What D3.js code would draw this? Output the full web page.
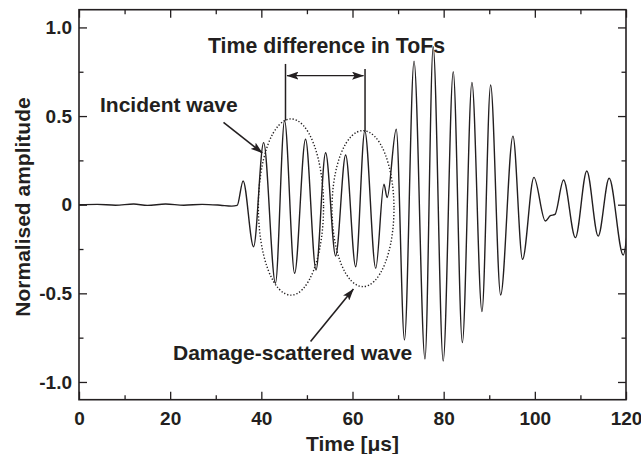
<!DOCTYPE html>
<html><head><meta charset="utf-8">
<script src="https://cdn.jsdelivr.net/npm/d3@7"></script>
<style>
body{margin:0;background:#fff}
svg{display:block}
text{font-family:"Liberation Sans",Arial,Helvetica,sans-serif;font-weight:bold;fill:#231f20}
</style>
</head><body>
<svg id="chart" width="641" height="454"></svg>
<script>
// ---- data ----
const timeUs = [0, 4, 8, 12, 15, 19, 23, 27, 31, 33.5, 34.7,
  36.0, 38.3, 40.5, 43.1, 45.1, 47.3, 49.7, 52.0, 54.1, 56.3, 58.5, 60.7, 62.7, 65.1,
  66.9, 67.6, 69.6, 71.4, 73.5, 75.9, 77.7, 79.9, 82.1, 84.1, 86.2, 88.4, 90.3, 92.5,
  95.2, 97.3, 99.8, 102.3, 103.4, 104.4, 106.3, 108.9, 111.4, 113.9, 116.3, 119.4, 120.3];
const amplitude = [0, 0.002, -0.003, 0.004, -0.004, 0.004, -0.003, 0.002, -0.003, -0.008, -0.004,
  0.134, -0.237, 0.35, -0.443, 0.474, -0.387, 0.369, -0.368, 0.293, -0.289, 0.28, -0.35, 0.416, -0.359,
  0.115, 0.04, 0.426, -0.763, 0.81, -0.87, 0.891, -0.882, 0.75, -0.778, 0.69, -0.603, 0.675, -0.509,
  0.387, -0.308, 0.154, -0.092, -0.062, -0.055, 0.139, -0.186, 0.19, -0.177, 0.149, -0.284, -0.15];

const xTicks = [0, 20, 40, 60, 80, 100, 120];
const xMinorTicks = [10, 30, 50, 70, 90, 110];
const yTicks = [-1, -0.5, 0, 0.5, 1];
const yTickLabels = ["-1.0", "-0.5", "0", "0.5", "1.0"];
const yMinorTicks = [-0.75, -0.25, 0.25, 0.75];

const xTitle = "Time [μs]";
const yTitle = "Normalised amplitude";

// annotation anchors in data units
const ellipseCx = [46.5, 62.3];
const ellipseCy = [-0.013, -0.022];
const ellipseRx = [7.15, 6.8];
const ellipseRy = [0.497, 0.44];
const tofTimes = [45.3, 62.75];
const tofPeakAmp = [0.474, 0.416];
const tofTopAmp = [0.794, 0.765];
const tofArrowAmp = 0.728;

// ---- layout ----
const svg = d3.select("#chart");
const L = 79, R = 626, T = 9.7, B = 399.7;
const x = d3.scaleLinear().domain([0, 120]).range([L, R]);
const y = d3.scaleLinear().domain([-1.1, 1.1]).range([B, T]);
const ink = "#231f20";

// defs
const defs = svg.append("defs");
defs.append("clipPath").attr("id", "plotclip").append("rect")
  .attr("x", L).attr("y", T).attr("width", R - L).attr("height", B - T);
defs.append("marker").attr("id", "ah").attr("viewBox", "0 0 12 8")
  .attr("refX", 11.5).attr("refY", 4).attr("markerWidth", 12).attr("markerHeight", 8)
  .attr("markerUnits", "userSpaceOnUse").attr("orient", "auto-start-reverse")
  .append("path").attr("d", "M0,0 L12,4 L0,8 L2.5,4 Z").attr("fill", ink);

// axes
function styleAxis(g) {
  g.select(".domain").remove();
  g.selectAll(".tick line").attr("stroke", ink).attr("stroke-width", 1.3);
  g.selectAll(".tick text").attr("font-size", 19).attr("fill", ink);
}
svg.append("g").attr("transform", `translate(0,${B})`)
  .call(d3.axisBottom(x).tickValues(xTicks).tickFormat(d3.format("d")).tickSizeInner(-8).tickSizeOuter(0).tickPadding(12))
  .call(styleAxis).attr("font-family", null);
svg.append("g").attr("transform", `translate(0,${B})`)
  .call(d3.axisBottom(x).tickValues(xMinorTicks).tickFormat("").tickSizeInner(-4.5).tickSizeOuter(0))
  .call(styleAxis);
svg.append("g").attr("transform", `translate(0,${T})`)
  .call(d3.axisTop(x).tickValues(xTicks).tickFormat("").tickSizeInner(-8).tickSizeOuter(0))
  .call(styleAxis);
svg.append("g").attr("transform", `translate(0,${T})`)
  .call(d3.axisTop(x).tickValues(xMinorTicks).tickFormat("").tickSizeInner(-4.5).tickSizeOuter(0))
  .call(styleAxis);
svg.append("g").attr("transform", `translate(${L},0)`)
  .call(d3.axisLeft(y).tickValues(yTicks).tickFormat((d, i) => yTickLabels[i]).tickSizeInner(-8).tickSizeOuter(0).tickPadding(7))
  .call(styleAxis).attr("font-family", null);
svg.append("g").attr("transform", `translate(${L},0)`)
  .call(d3.axisLeft(y).tickValues(yMinorTicks).tickFormat("").tickSizeInner(-4.5).tickSizeOuter(0))
  .call(styleAxis);
svg.append("g").attr("transform", `translate(${R},0)`)
  .call(d3.axisRight(y).tickValues(yTicks).tickFormat("").tickSizeInner(-8).tickSizeOuter(0))
  .call(styleAxis);
svg.append("g").attr("transform", `translate(${R},0)`)
  .call(d3.axisRight(y).tickValues(yMinorTicks).tickFormat("").tickSizeInner(-4.5).tickSizeOuter(0))
  .call(styleAxis);

// waveform
const pts = timeUs.map((t, i) => [t, amplitude[i]]);
svg.append("path").datum(pts)
  .attr("clip-path", "url(#plotclip)")
  .attr("fill", "none").attr("stroke", ink).attr("stroke-width", 1.4)
  .attr("stroke-linejoin", "round")
  .attr("d", d3.line().x(d => x(d[0])).y(d => y(d[1])).curve(d3.curveMonotoneX));

// frame
svg.append("rect").attr("x", L).attr("y", T).attr("width", R - L).attr("height", B - T)
  .attr("fill", "none").attr("stroke", ink).attr("stroke-width", 1.6);

// dotted ellipses
ellipseCx.forEach((cx, i) => {
  svg.append("ellipse")
    .attr("cx", x(cx)).attr("cy", y(ellipseCy[i]))
    .attr("rx", x(cx + ellipseRx[i]) - x(cx)).attr("ry", y(0) - y(ellipseRy[i]))
    .attr("fill", "none").attr("stroke", ink).attr("stroke-width", 1.4)
    .attr("stroke-dasharray", "1.3,1.9");
});

// ToF markers
tofTimes.forEach((t, i) => {
  svg.append("line").attr("x1", x(t)).attr("x2", x(t))
    .attr("y1", y(tofTopAmp[i])).attr("y2", y(tofPeakAmp[i]))
    .attr("stroke", ink).attr("stroke-width", 1.5);
});
svg.append("line")
  .attr("x1", x(tofTimes[0]) + 1.5).attr("x2", x(tofTimes[1]) - 1.5)
  .attr("y1", y(tofArrowAmp)).attr("y2", y(tofArrowAmp))
  .attr("stroke", ink).attr("stroke-width", 1.4)
  .attr("marker-start", "url(#ah)").attr("marker-end", "url(#ah)");

// pointer arrows (data units)
const arrows = [
  {t0: 31.7, a0: 0.465, t1: 40.2, a1: 0.292},
  {t0: 50.8, a0: -0.772, t1: 60.2, a1: -0.476}
];
arrows.forEach(a => {
  svg.append("line").attr("x1", x(a.t0)).attr("y1", y(a.a0))
    .attr("x2", x(a.t1)).attr("y2", y(a.a1))
    .attr("stroke", ink).attr("stroke-width", 1.6).attr("marker-end", "url(#ah)");
});

// annotation texts
svg.append("text").attr("x", 208).attr("y", 53).attr("font-size", 21.3).text("Time difference in ToFs");
svg.append("text").attr("x", 100).attr("y", 111.7).attr("font-size", 21).text("Incident wave");
svg.append("text").attr("x", 173).attr("y", 360).attr("font-size", 21).text("Damage-scattered wave");

// axis titles
svg.append("text").attr("x", (L + R) / 2).attr("y", 451).attr("text-anchor", "middle")
  .attr("font-size", 21).text(xTitle);
svg.append("text").attr("transform", "translate(30,207) rotate(-90)").attr("text-anchor", "middle")
  .attr("font-size", 21).text(yTitle);
</script>
</body></html>
